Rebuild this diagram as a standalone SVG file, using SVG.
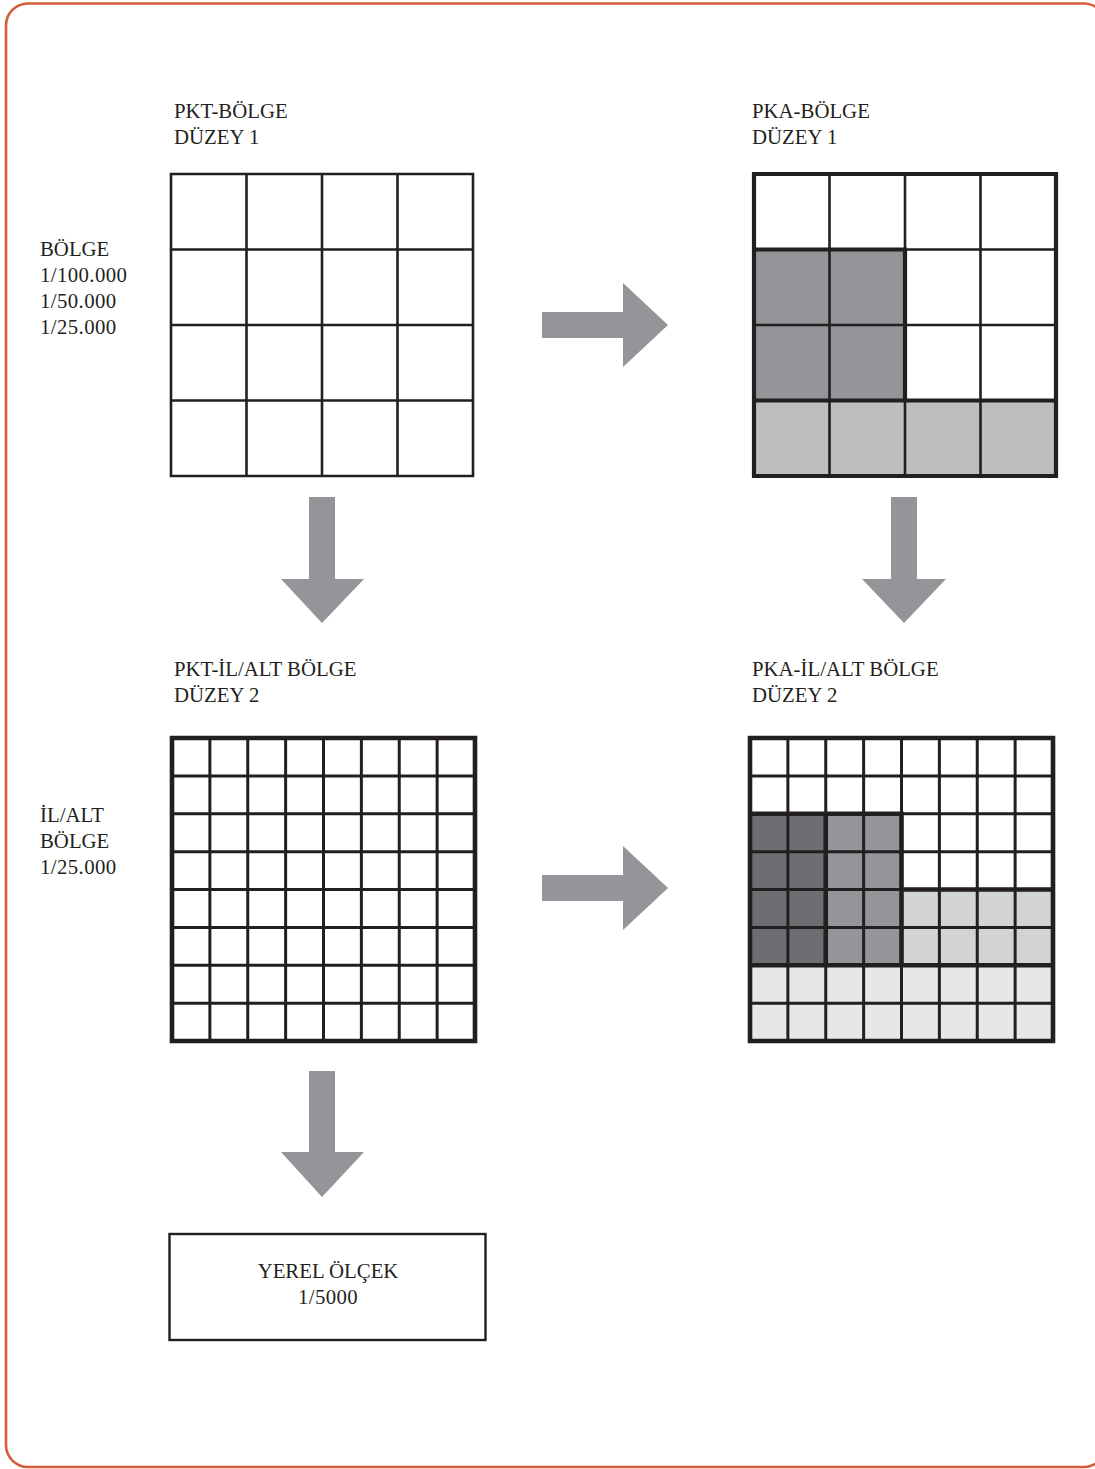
<svg xmlns="http://www.w3.org/2000/svg" width="1095" height="1469" viewBox="0 0 1095 1469">
<style>
.t{font-family:"Liberation Serif","Times New Roman",serif;font-size:20.8px;fill:#231f20}
.ln{fill:none;stroke:#231f20;stroke-width:2.6}
.thick{fill:none;stroke:#231f20;stroke-width:4.2}
.arr{fill:#939598}
</style>
<rect x="0" y="0" width="1095" height="1469" fill="#ffffff"/>
<rect id="frame" x="6" y="3.5" width="1100" height="1463.5" rx="22" fill="none" stroke="#d45d3b" stroke-width="2.6"/>

<g id="label-left-1">
<text class="t" x="40" y="256">BÖLGE</text>
<text class="t" x="40" y="282" letter-spacing="0.4">1/100.000</text>
<text class="t" x="40" y="308" letter-spacing="0.4">1/50.000</text>
<text class="t" x="40" y="334" letter-spacing="0.4">1/25.000</text>
</g>
<g id="label-left-2">
<text class="t" x="40" y="822">İL/ALT</text>
<text class="t" x="40" y="848">BÖLGE</text>
<text class="t" x="40" y="874" letter-spacing="0.4">1/25.000</text>
</g>

<g id="pkt-bolge">
<text class="t" x="174" y="118">PKT-BÖLGE</text>
<text class="t" x="174" y="144">DÜZEY 1</text>
<rect x="171" y="174" width="302" height="302" fill="#ffffff"/>
<path class="ln" d="M171 174H473V476H171Z M246.5 174V476 M322 174V476 M397.5 174V476 M171 249.5H473 M171 325H473 M171 400.5H473"/>
</g>

<g id="pka-bolge">
<text class="t" x="752" y="118">PKA-BÖLGE</text>
<text class="t" x="752" y="144">DÜZEY 1</text>
<rect x="754" y="174" width="302" height="302" fill="#ffffff"/>
<rect x="754" y="249.5" width="151" height="151" fill="#939598"/>
<rect x="754" y="400.5" width="302" height="75.5" fill="#bcbec0"/>
<path class="ln" d="M829.5 174V476 M905 174V476 M980.5 174V476 M754 249.5H1056 M754 325H1056 M754 400.5H1056"/>
<path class="thick" d="M754 174H1056V476H754Z M754 249.5H905V400.5 M754 400.5H1056"/>
</g>

<g id="pkt-il">
<text class="t" x="174" y="676">PKT-İL/ALT BÖLGE</text>
<text class="t" x="174" y="702">DÜZEY 2</text>
<rect x="172" y="738" width="303" height="303" fill="#ffffff"/>
<path class="ln" style="stroke-width:3" d="M209.875 738V1041 M247.75 738V1041 M285.625 738V1041 M323.5 738V1041 M361.375 738V1041 M399.25 738V1041 M437.125 738V1041 M172 775.875H475 M172 813.75H475 M172 851.625H475 M172 889.5H475 M172 927.375H475 M172 965.25H475 M172 1003.125H475"/>
<path class="thick" style="stroke-width:4.6" d="M172 738H475V1041H172Z"/>
</g>

<g id="pka-il">
<text class="t" x="752" y="676">PKA-İL/ALT BÖLGE</text>
<text class="t" x="752" y="702">DÜZEY 2</text>
<rect x="750" y="738" width="303" height="303" fill="#ffffff"/>
<rect x="750" y="813.75" width="75.75" height="151.5" fill="#6d6e71"/>
<rect x="825.75" y="813.75" width="75.75" height="151.5" fill="#939598"/>
<rect x="901.5" y="889.5" width="151.5" height="75.75" fill="#d1d3d4"/>
<rect x="750" y="965.25" width="303" height="75.75" fill="#e6e7e8"/>
<path class="ln" style="stroke-width:3" d="M787.875 738V1041 M825.75 738V1041 M863.625 738V1041 M901.5 738V1041 M939.375 738V1041 M977.25 738V1041 M1015.125 738V1041 M750 775.875H1053 M750 813.75H1053 M750 851.625H1053 M750 889.5H1053 M750 927.375H1053 M750 965.25H1053 M750 1003.125H1053"/>
<path class="thick" style="stroke-width:4.6" d="M750 738H1053V1041H750Z M750 813.75H901.5V965.25 M825.75 813.75V965.25 M901.5 889.5H1053 M750 965.25H1053"/>
</g>

<g id="yerel">
<rect x="169.5" y="1234" width="316" height="106" fill="#ffffff" stroke="#231f20" stroke-width="2.4"/>
<text class="t" x="328" y="1278" text-anchor="middle">YEREL ÖLÇEK</text>
<text class="t" x="328" y="1304" text-anchor="middle" letter-spacing="0.4">1/5000</text>
</g>

<g id="connectors">
<polygon class="arr" points="542,312 623,312 623,283 668,325 623,367 623,338 542,338"/>
<polygon class="arr" points="542,875 623,875 623,846 668,888 623,930 623,901 542,901"/>
<polygon class="arr" points="309,497 335,497 335,579 364,579 322,623 281,579 309,579"/>
<polygon class="arr" points="891,497 917,497 917,579 946,579 904,623 862,579 891,579"/>
<polygon class="arr" points="309,1071 335,1071 335,1152 364,1152 322,1197 281,1152 309,1152"/>
</g>
</svg>
